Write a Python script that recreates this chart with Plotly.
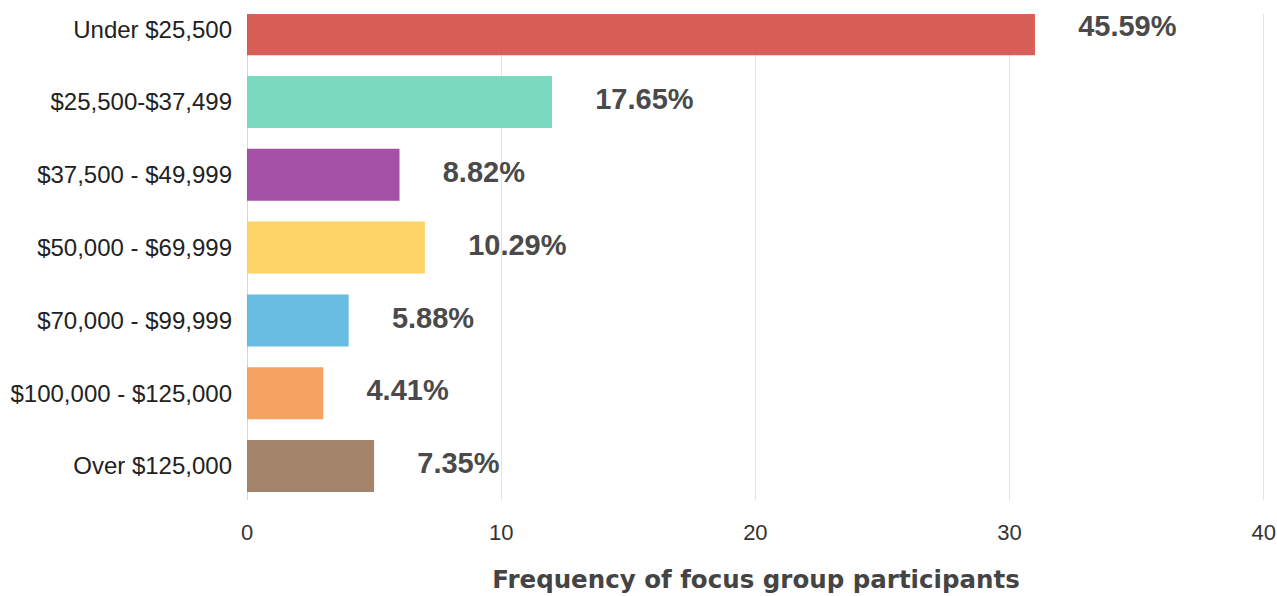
import plotly.graph_objects as go

# 收入区间（从下到上）
categories = [
    "Over $125,000",
    "$100,000 - $125,000",
    "$70,000 - $99,999",
    "$50,000 - $69,999",
    "$37,500 - $49,999",
    "$25,500-$37,499",
    "Under $25,500",
]
counts = [5, 3, 4, 7, 6, 12, 31]
percent_labels = ["7.35%", "4.41%", "5.88%", "10.29%", "8.82%", "17.65%", "45.59%"]
bar_colors = ["#9c7b5e", "#f59a55", "#5db7e0", "#ffd05a", "#9c429f", "#6fd6b8", "#d5504a"]

x_ticks = [0, 10, 20, 30, 40]

fig = go.Figure()

fig.add_trace(
    go.Bar(
        x=counts,
        y=categories,
        orientation="h",
        marker=dict(color=bar_colors, opacity=0.92, line=dict(width=0)),
        width=0.714,
        hoverinfo="skip",
    )
)

# 百分比标签放在柱子右侧
fig.add_trace(
    go.Scatter(
        x=[c + 1.7 for c in counts],
        y=categories,
        mode="text",
        text=percent_labels,
        textposition="middle right",
        textfont=dict(family="Liberation Sans", size=29, color="#4a4a4a", weight="bold"),
        hoverinfo="skip",
        cliponaxis=False,
    )
)

fig.update_layout(
    width=1277,
    height=596,
    margin=dict(l=247, r=12, t=14, b=96, autoexpand=False),
    paper_bgcolor="white",
    plot_bgcolor="white",
    showlegend=False,
    font=dict(family="Liberation Sans", color="#333333"),
    xaxis=dict(
        range=[0, 40.05],
        tickvals=x_ticks,
        tickfont=dict(size=22, color="#333333"),
        ticklabeloverflow="allow",
        showgrid=True,
        gridcolor="#e3e3e3",
        gridwidth=1,
        zeroline=True,
        zerolinecolor="#d6d6d6",
        zerolinewidth=1,
        showline=False,
        ticks="",
        ticklabelstandoff=17,
        automargin=True,
        title=dict(
            text="Frequency of focus group participants",
            font=dict(family="DejaVu Sans", size=24.5, color="#444444", weight="bold"),
            standoff=26,
        ),
    ),
    yaxis=dict(
        type="category",
        categoryorder="array",
        categoryarray=categories,
        range=[-0.467, 6.209],
        tickfont=dict(size=24, color="#222222"),
        showgrid=False,
        ticks="",
        ticklabelstandoff=14,
        automargin=False,
    ),
)

# 去掉页面 body 的默认边距，让图表贴齐窗口
fig.write_html(
    "out.html",
    config={"displayModeBar": False},
    post_script="document.body.style.margin = '0';",
)
